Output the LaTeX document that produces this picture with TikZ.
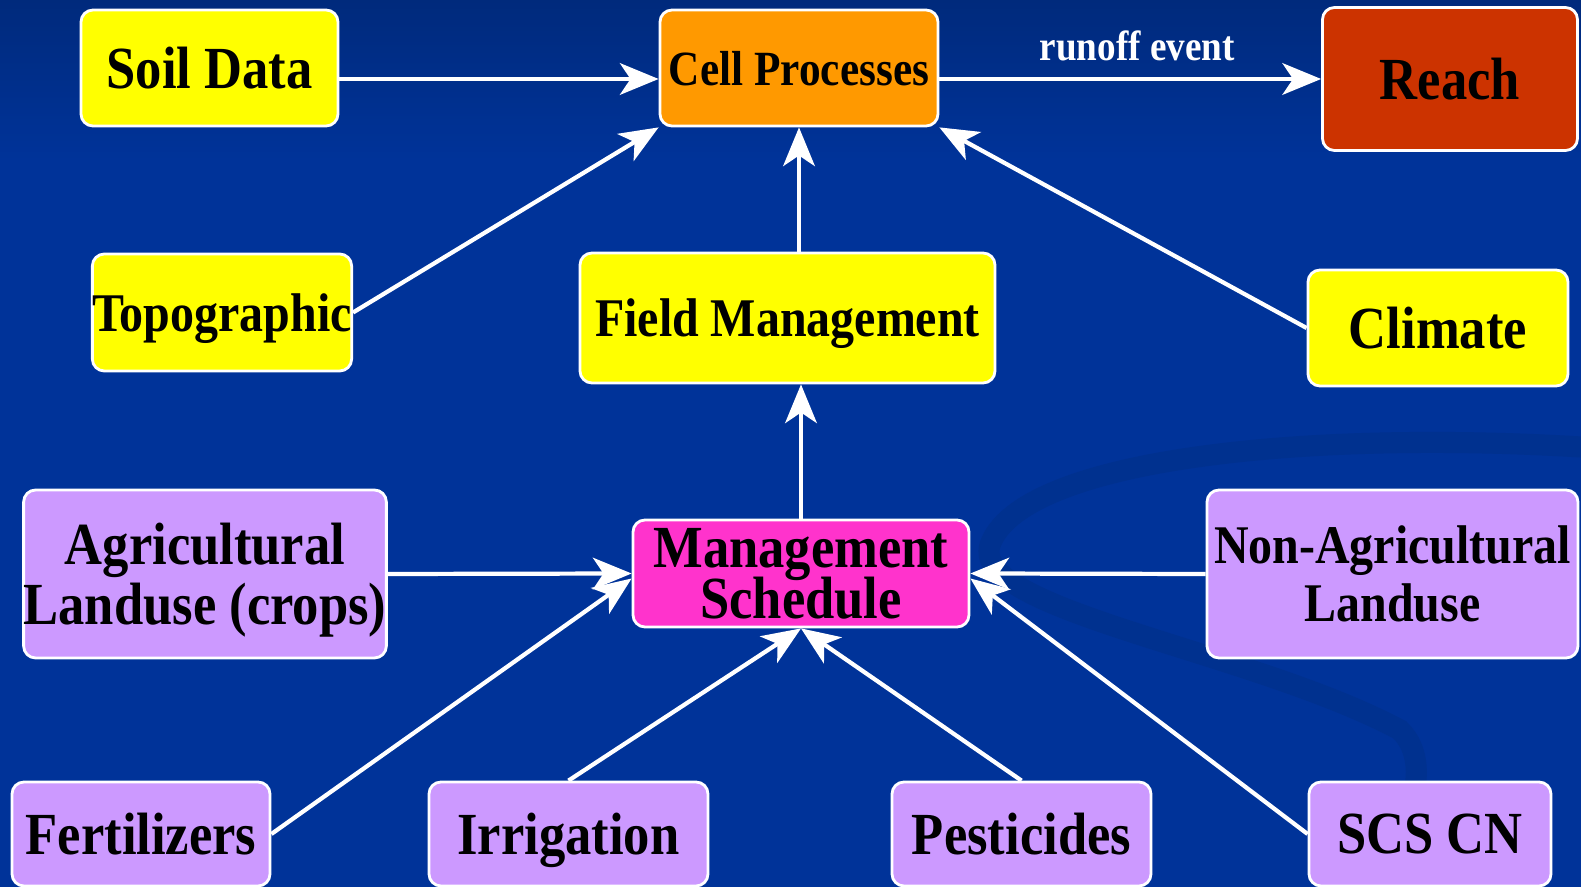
\documentclass[tikz,border=0pt]{standalone}
\usepackage{fontspec}
\setmainfont{Liberation Serif}[FakeStretch=0.88]
\usetikzlibrary{arrows.meta}

\definecolor{slideblue}{HTML}{003399}
\definecolor{slidetop}{HTML}{002A7C}
\definecolor{swirlblue}{HTML}{00318F}
\definecolor{datayellow}{HTML}{FFFF00}
\definecolor{cellorange}{HTML}{FF9900}
\definecolor{reachred}{HTML}{CC3300}
\definecolor{schedpink}{HTML}{FF33CC}
\definecolor{landlilac}{HTML}{CC99FF}

\begin{document}
\begin{tikzpicture}[
    box/.style={draw=white, line width=0.8pt, rounded corners=0.12cm, inner sep=0pt,
                align=center, text=black, text depth=0pt,
                font=\fontsize{17}{17}\selectfont\bfseries},
    databox/.style={box, fill=datayellow},
    landbox/.style={box, fill=landlilac},
    arr/.style={-{Stealth[length=11pt,width=9pt,inset=3pt]}, white, line width=1.2pt},
    swirl/.style={swirlblue, line width=6pt, line cap=round}
]

    % Background (slide)
    \fill[slideblue] (0,0) rectangle (15.81,-8.87);
    \shade[top color=slidetop, bottom color=slideblue] (0,0) rectangle (15.81,-1.6);
    \useasboundingbox (0,0) rectangle (15.81,-8.87);

    % faint swirl on the right
    \draw[swirl] (15.81,-4.47) .. controls (13.0,-4.3) and (10.2,-4.6) .. (9.9,-5.45)
        .. controls (9.7,-6.1) and (12.5,-6.5) .. (14.0,-7.3)
        .. controls (14.4,-7.7) and (14.0,-8.5) .. (13.5,-8.87);

    % Top row
    \node[databox, minimum width=2.57cm, minimum height=1.16cm] (soil) at (2.095,-0.68) {Soil Data};
    \node[box, fill=cellorange, minimum width=2.78cm, minimum height=1.16cm,
          font=\fontsize{14}{14}\selectfont\bfseries] (cell) at (7.99,-0.68) {Cell Processes};
    \node[box, fill=reachred, minimum width=2.55cm, minimum height=1.43cm] (reach) at (14.50,-0.79) {Reach};

    % Middle row
    \node[databox, minimum width=2.58cm, minimum height=1.17cm,
          font=\fontsize{15.5}{15.5}\selectfont\bfseries] (topo) at (2.22,-3.125) {Topographic};
    \node[databox, minimum width=4.15cm, minimum height=1.30cm,
          font=\fontsize{15.5}{15.5}\selectfont\bfseries] (field) at (7.875,-3.18) {Field Management};
    \node[databox, minimum width=2.60cm, minimum height=1.16cm] (climate) at (14.38,-3.28) {Climate};

    % Landuse row
    \node[landbox, minimum width=3.62cm, minimum height=1.68cm] (agri) at (2.05,-5.74)
        {Agricultural\\Landuse (crops)};
    \node[box, fill=schedpink, minimum width=3.36cm, minimum height=1.07cm] (sched) at (8.01,-5.735)
        {Management\\[-2.5pt]Schedule};
    \node[landbox, minimum width=3.71cm, minimum height=1.68cm,
          font=\fontsize{15.5}{15.5}\selectfont\bfseries] (nonagri) at (13.925,-5.74)
        {Non-Agricultural\\[1pt]Landuse};

    % Bottom row
    \node[landbox, minimum width=2.58cm, minimum height=1.04cm] (fert) at (1.41,-8.34) {Fertilizers};
    \node[landbox, minimum width=2.79cm, minimum height=1.04cm] (irrig) at (5.685,-8.34) {Irrigation};
    \node[landbox, minimum width=2.59cm, minimum height=1.04cm] (pest) at (10.215,-8.34) {Pesticides};
    \node[landbox, minimum width=2.42cm, minimum height=1.04cm] (scs) at (14.30,-8.34) {SCS CN};

    % Connectors into the cell
    \draw[arr] ([yshift=-0.11cm]soil.east) -- ([yshift=-0.11cm]cell.west);
    \draw[arr] (topo.east) -- (cell.south west);
    \draw[arr] (cell.south |- field.north) -- (cell.south);
    \draw[arr] (climate.west) -- (cell.south east);
    \draw[arr] ([yshift=-0.11cm]cell.east) -- (reach.west)
        node[midway, above, xshift=0.07cm, yshift=1.3pt, text=white,
             font=\fontsize{12}{12}\selectfont\bfseries] (runoff) {runoff event};

    % Connectors into the schedule
    \draw[arr] (sched.north) -- (sched.north |- field.south);
    \draw[arr] (agri.east) -- (sched.west);
    \draw[arr] (nonagri.west) -- (sched.east);
    \draw[arr] (fert.east) -- ([yshift=-0.05cm]sched.west);
    \draw[arr] (irrig.north) -- (sched.south);
    \draw[arr] (pest.north) -- (sched.south);
    \draw[arr] (scs.west) -- ([yshift=-0.05cm]sched.east);

\end{tikzpicture}
\end{document}
